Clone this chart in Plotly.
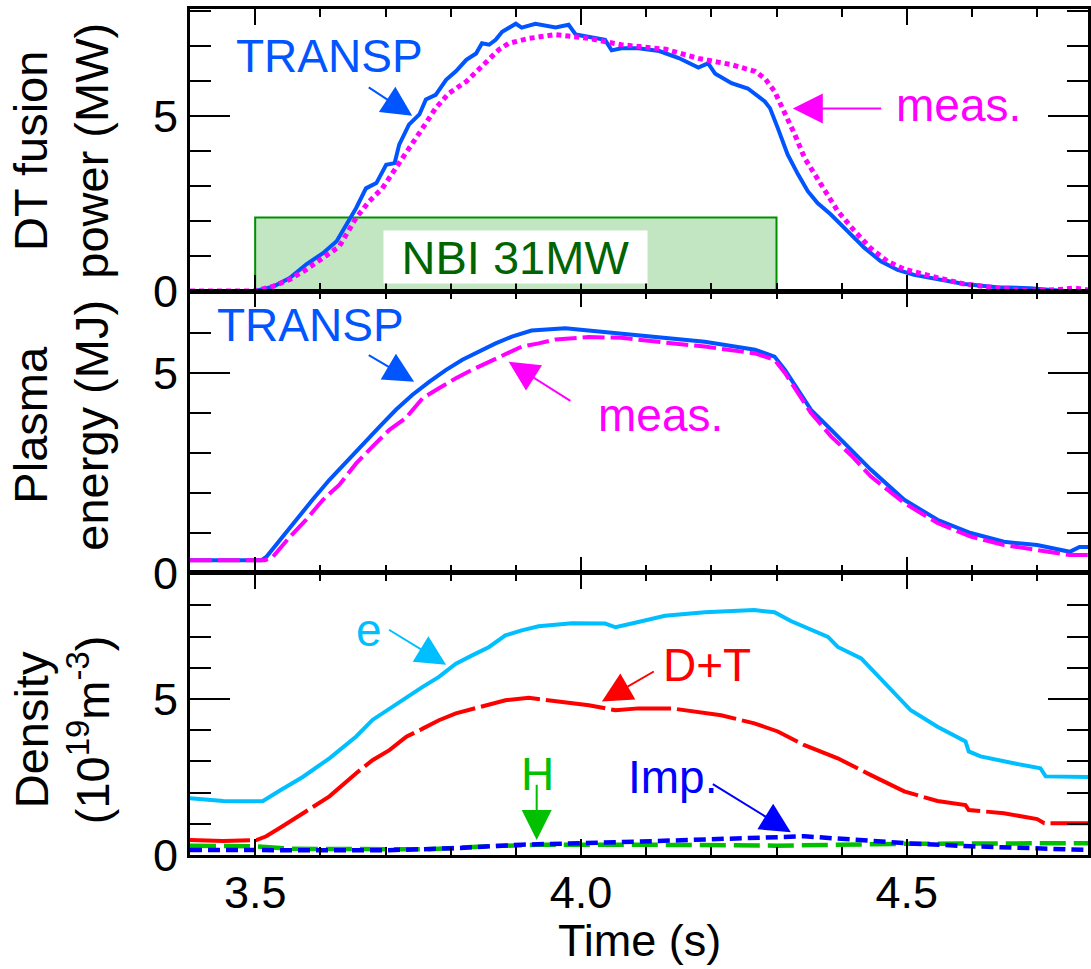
import plotly.graph_objects as go
from plotly.subplots import make_subplots

# ---------------- data ----------------
# Top panel: DT fusion power (MW)
t_pw_transp = [3.40, 3.50, 3.527, 3.553, 3.579, 3.604, 3.625, 3.640, 3.655, 3.670, 3.686, 3.701, 3.714,
               3.721, 3.736, 3.752, 3.762, 3.777, 3.793, 3.808, 3.824, 3.839, 3.848, 3.859, 3.869, 3.879,
               3.900, 3.909, 3.930, 3.961, 3.981, 3.992, 4.012, 4.037, 4.047, 4.062, 4.088, 4.120, 4.150,
               4.180, 4.195, 4.206, 4.231, 4.256, 4.282, 4.290, 4.302, 4.317, 4.333, 4.348, 4.363, 4.383,
               4.409, 4.435, 4.460, 4.486, 4.511, 4.536, 4.588, 4.638, 4.689, 4.741, 4.780]
pw_transp = [0.0, 0.0, 0.12, 0.37, 0.77, 1.08, 1.42, 1.90, 2.37, 2.93, 3.08, 3.60, 3.65,
             4.18, 4.75, 5.04, 5.47, 5.60, 6.03, 6.27, 6.60, 6.78, 7.07, 7.03, 7.17, 7.40,
             7.63, 7.52, 7.63, 7.52, 7.60, 7.32, 7.26, 7.17, 6.87, 6.93, 6.93, 6.85, 6.65,
             6.38, 6.50, 6.20, 5.93, 5.78, 5.41, 5.22, 4.65, 3.90, 3.33, 2.85, 2.51, 2.19,
             1.71, 1.23, 0.85, 0.60, 0.46, 0.37, 0.20, 0.11, 0.08, 0.0, 0.0]

t_pw_meas = [3.40, 3.50, 3.527, 3.553, 3.579, 3.604, 3.629, 3.655, 3.675, 3.695, 3.716, 3.732, 3.747,
             3.762, 3.777, 3.797, 3.824, 3.848, 3.874, 3.889, 3.920, 3.961, 4.012, 4.062, 4.088, 4.130,
             4.180, 4.231, 4.267, 4.282, 4.297, 4.312, 4.328, 4.343, 4.359, 4.374, 4.394, 4.420, 4.444,
             4.470, 4.496, 4.536, 4.588, 4.638, 4.689, 4.740, 4.757, 4.780]
pw_meas = [0.0, 0.0, 0.13, 0.33, 0.62, 0.95, 1.27, 2.09, 2.56, 2.93, 3.50, 3.99, 4.36,
           4.79, 5.22, 5.64, 5.98, 6.41, 6.89, 7.07, 7.21, 7.32, 7.21, 7.03, 6.98, 6.90,
           6.64, 6.46, 6.27, 6.07, 5.70, 5.13, 4.47, 3.80, 3.33, 2.85, 2.28, 1.71, 1.23,
           0.85, 0.62, 0.43, 0.20, 0.09, 0.0, 0.05, 0.09, 0.02]

# Middle panel: plasma energy (MJ)
t_w_transp = [3.40, 3.51, 3.517, 3.538, 3.563, 3.588, 3.614, 3.640, 3.665, 3.691, 3.716, 3.741, 3.767,
              3.793, 3.818, 3.843, 3.869, 3.894, 3.924, 3.976, 4.037, 4.088, 4.190, 4.267, 4.297, 4.313,
              4.333, 4.353, 4.384, 4.414, 4.445, 4.496, 4.547, 4.598, 4.649, 4.700, 4.750, 4.765, 4.780]
w_transp = [0.32, 0.32, 0.40, 0.83, 1.33, 1.83, 2.33, 2.78, 3.24, 3.66, 4.08, 4.45, 4.78,
            5.08, 5.33, 5.53, 5.74, 5.91, 6.06, 6.12, 6.03, 5.94, 5.78, 5.58, 5.41, 5.08,
            4.58, 4.08, 3.58, 3.08, 2.58, 1.83, 1.33, 1.00, 0.78, 0.70, 0.53, 0.65, 0.65]

t_w_meas = [3.40, 3.515, 3.527, 3.553, 3.578, 3.604, 3.629, 3.655, 3.680, 3.706, 3.731, 3.757, 3.782,
            3.808, 3.833, 3.859, 3.884, 3.909, 3.935, 3.961, 4.012, 4.062, 4.088, 4.190, 4.267, 4.297,
            4.313, 4.333, 4.353, 4.384, 4.414, 4.445, 4.496, 4.547, 4.598, 4.649, 4.700, 4.750, 4.780]
w_meas = [0.32, 0.32, 0.40, 0.90, 1.33, 1.83, 2.20, 2.74, 3.16, 3.58, 3.87, 4.37, 4.62,
          4.87, 5.08, 5.28, 5.49, 5.66, 5.74, 5.84, 5.90, 5.88, 5.83, 5.66, 5.49, 5.33,
          5.00, 4.50, 4.00, 3.41, 2.95, 2.41, 1.75, 1.25, 0.91, 0.70, 0.58, 0.45, 0.45]

# Bottom panel: densities (1e19 m^-3)
t_ne = [3.40, 3.451, 3.477, 3.512, 3.538, 3.573, 3.614, 3.655, 3.680, 3.706, 3.732, 3.757, 3.782,
        3.808, 3.833, 3.859, 3.884, 3.909, 3.935, 3.986, 4.037, 4.053, 4.088, 4.129, 4.190, 4.231,
        4.266, 4.297, 4.322, 4.379, 4.394, 4.430, 4.466, 4.506, 4.547, 4.590, 4.595, 4.613, 4.664,
        4.705, 4.713, 4.780]
n_e = [1.82, 1.73, 1.72, 1.73, 2.07, 2.50, 3.10, 3.80, 4.33, 4.70, 5.07, 5.39, 5.71,
       6.13, 6.40, 6.67, 7.04, 7.20, 7.33, 7.43, 7.42, 7.30, 7.47, 7.67, 7.78, 7.83,
       7.85, 7.78, 7.50, 6.99, 6.67, 6.30, 5.50, 4.64, 4.11, 3.64, 3.32, 3.16, 2.94,
       2.78, 2.52, 2.50]

t_ndt = [3.40, 3.451, 3.502, 3.517, 3.542, 3.578, 3.614, 3.655, 3.680, 3.706, 3.732, 3.757, 3.782,
         3.808, 3.848, 3.884, 3.920, 3.961, 4.012, 4.053, 4.088, 4.139, 4.215, 4.266, 4.302, 4.343,
         4.394, 4.445, 4.496, 4.547, 4.590, 4.595, 4.649, 4.700, 4.711, 4.780]
n_dt = [0.48, 0.45, 0.48, 0.60, 0.92, 1.40, 1.88, 2.62, 3.04, 3.36, 3.79, 4.05, 4.32,
        4.54, 4.75, 4.96, 5.04, 4.93, 4.80, 4.64, 4.70, 4.70, 4.48, 4.22, 3.96, 3.52,
        3.10, 2.56, 2.04, 1.73, 1.60, 1.44, 1.34, 1.15, 1.02, 1.02]

t_nh = [3.40, 3.502, 3.553, 3.655, 3.757, 3.859, 3.935, 4.088, 4.300, 4.500, 4.600, 4.700, 4.750, 4.780]
n_h = [0.30, 0.28, 0.20, 0.18, 0.18, 0.28, 0.33, 0.33, 0.30, 0.36, 0.38, 0.40, 0.40, 0.38]

t_nimp = [3.40, 3.700, 3.808, 3.909, 4.088, 4.190, 4.343, 4.420, 4.496, 4.598, 4.700, 4.780]
n_imp = [0.16, 0.15, 0.22, 0.33, 0.43, 0.49, 0.60, 0.49, 0.38, 0.28, 0.20, 0.16]

# NBI heating window (s) and box height (MW)
nbi_t = [3.5, 4.3]
nbi_h = 2.1

x_ticks = [3.5, 4.0, 4.5]
x_tick_text = ["3.5", "4.0", "4.5"]

# ---------------- figure ----------------
FONT = "Arial, Liberation Sans, sans-serif"
BLUE = "#0055FF"
MAG = "#FF00FF"
CYAN = "#00BFFF"
RED = "#FF0000"
GREEN = "#00C000"
IMPB = "#0000FF"

fig = make_subplots(rows=3, cols=1, shared_xaxes=False, vertical_spacing=0)

fig.add_trace(go.Scatter(x=t_pw_transp, y=pw_transp, mode="lines",
                         line=dict(color=BLUE, width=4)), row=1, col=1)
fig.add_trace(go.Scatter(x=t_pw_meas, y=pw_meas, mode="lines",
                         line=dict(color=MAG, width=5, dash="5px,4px")), row=1, col=1)

fig.add_trace(go.Scatter(x=t_w_transp, y=w_transp, mode="lines",
                         line=dict(color=BLUE, width=4)), row=2, col=1)
fig.add_trace(go.Scatter(x=t_w_meas, y=w_meas, mode="lines",
                         line=dict(color=MAG, width=4, dash="22px,6px")), row=2, col=1)

fig.add_trace(go.Scatter(x=t_ne, y=n_e, mode="lines",
                         line=dict(color=CYAN, width=4)), row=3, col=1)
fig.add_trace(go.Scatter(x=t_ndt, y=n_dt, mode="lines",
                         line=dict(color=RED, width=4, dash="60px,6px")), row=3, col=1)
fig.add_trace(go.Scatter(x=t_nh, y=n_h, mode="lines",
                         line=dict(color=GREEN, width=4.5, dash="26px,8px")), row=3, col=1)
fig.add_trace(go.Scatter(x=t_nimp, y=n_imp, mode="lines",
                         line=dict(color=IMPB, width=4.5, dash="12px,6px")), row=3, col=1)

# NBI box
fig.add_shape(type="rect", xref="x", yref="y", x0=nbi_t[0], x1=nbi_t[1], y0=0, y1=nbi_h,
              fillcolor="#C2E6C2", line=dict(color="#009000", width=2), layer="below")

yranges = [[0, 8.05], [0, 7.05], [0, 9.04]]
xlw = [2.5, 1.5, 2.5]
for i in range(1, 4):
    fig.update_xaxes(row=i, col=1, range=[3.4, 4.778], showgrid=False, zeroline=False,
                     showline=True, linecolor="black", linewidth=xlw[i - 1], mirror="ticks",
                     ticks="inside", tickvals=x_ticks, ticktext=x_tick_text, ticklen=16,
                     tickwidth=2, tickcolor="black",
                     minor=dict(ticks="inside", dtick=0.1, tick0=3.4, ticklen=8, tickwidth=2,
                                tickcolor="black", showgrid=False),
                     showticklabels=(i == 3), ticklabelstandoff=-4,
                     tickfont=dict(family=FONT, size=45, color="black"))
    fig.update_yaxes(row=i, col=1, range=yranges[i - 1], showgrid=False, zeroline=False,
                     showline=True, linecolor="black", linewidth=3, mirror="ticks",
                     ticks="inside", tickvals=[0, 5], ticklen=40, tickwidth=2, tickcolor="black",
                     minor=dict(ticks="inside", dtick=1, tick0=0, ticklen=21, tickwidth=2,
                                tickcolor="black", showgrid=False),
                     ticklabelstandoff=0,
                     tickfont=dict(family=FONT, size=45, color="black"))

ann = []


def text(x, y, s, color, xr, yr, size=46, **kw):
    d = dict(x=x, y=y, xref=xr, yref=yr, text=s, showarrow=False,
             font=dict(family=FONT, size=size, color=color), xanchor="center", yanchor="middle")
    d.update(kw)
    ann.append(d)


def arrow(x0, y0, x1, y1, color, xr, yr, width=2, size=3.0):
    ann.append(dict(x=x1, y=y1, ax=x0, ay=y0, xref=xr, yref=yr, axref=xr, ayref=yr, text="",
                    showarrow=True, arrowhead=2, arrowsize=size, arrowwidth=width,
                    arrowcolor=color, standoff=0, startstandoff=0))


# top panel labels
text(3.614, 6.72, "TRANSP", BLUE, "x", "y")
arrow(3.672, 5.84, 3.741, 5.0, BLUE, "x", "y")
text(4.579, 5.3, "meas.", MAG, "x", "y")
arrow(4.463, 5.21, 4.325, 5.21, MAG, "x", "y")
text(3.9, 0.96, "NBI 31MW", "#006400", "x", "y", size=47, bgcolor="white", borderpad=4,
     width=255, height=44)

# middle panel labels
text(3.585, 6.2, "TRANSP", BLUE, "x2", "y2")
arrow(3.672, 5.47, 3.744, 4.78, BLUE, "x2", "y2")
text(4.122, 3.95, "meas.", MAG, "x2", "y2")
arrow(3.986, 4.28, 3.889, 5.28, MAG, "x2", "y2")

# bottom panel labels
text(3.674, 7.2, "e", CYAN, "x3", "y3")
arrow(3.703, 7.25, 3.793, 6.1, CYAN, "x3", "y3")
text(4.194, 6.1, "D+T", RED, "x3", "y3")
arrow(4.114, 5.91, 4.032, 4.92, RED, "x3", "y3")
text(3.934, 2.6, "H", GREEN, "x3", "y3")
arrow(3.932, 2.3, 3.932, 0.48, GREEN, "x3", "y3")
text(4.14, 2.5, "Imp.", IMPB, "x3", "y3")
arrow(4.2, 2.3, 4.322, 0.73, IMPB, "x3", "y3")

# axis titles
for ytxt, yp in [("DT fusion<br>power (MW)", 0.833), ("Plasma<br>energy (MJ)", 0.508),
                 ("Density<br>(10<sup>19</sup>m<sup>-3</sup>)", 0.148)]:
    ann.append(dict(x=(61 - 190) / 901, y=yp, xref="paper", yref="paper", text=ytxt,
                    showarrow=False, textangle=-90, xanchor="center", yanchor="middle",
                    font=dict(family=FONT, size=47, color="black")))
ann.append(dict(x=0.5, y=(855 - 940) / 846, xref="paper", yref="paper", text="Time (s)",
                showarrow=False, xanchor="center", yanchor="middle",
                font=dict(family=FONT, size=45, color="black")))

fig.update_layout(width=1091, height=969, margin=dict(l=190, r=0, t=9, b=114),
                  paper_bgcolor="white", plot_bgcolor="white", showlegend=False,
                  annotations=ann)

fig.write_html("out.html")
